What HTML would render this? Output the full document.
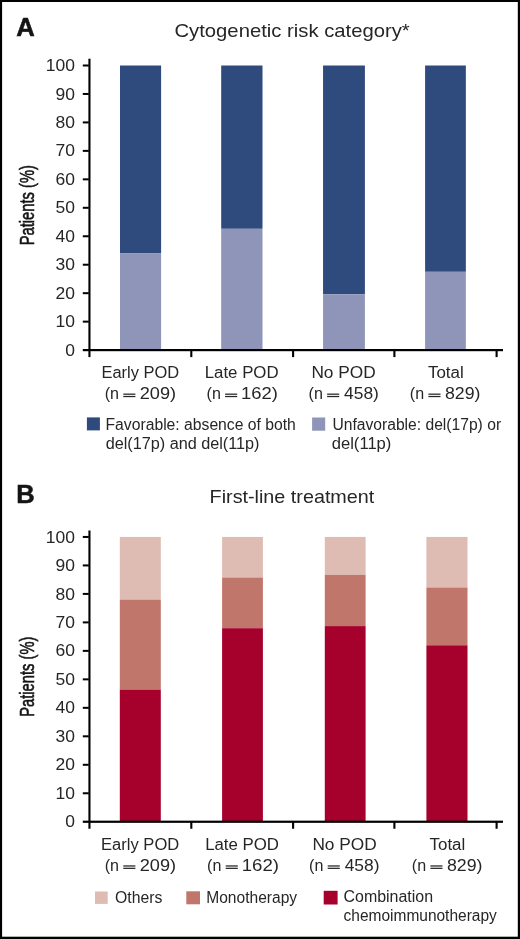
<!DOCTYPE html>
<html><head><meta charset="utf-8"><title>Figure</title>
<style>html,body{margin:0;padding:0;background:#fff;width:520px;height:939px;overflow:hidden}</style>
</head><body>
<svg width="520" height="939" viewBox="0 0 520 939" style="display:block;will-change:transform">
<rect x="0" y="0" width="520" height="939" fill="#000"/>
<rect x="2.1" y="2" width="515.7" height="934.7" fill="#fff"/>
<g font-family='"Liberation Sans", sans-serif' fill="#262626">
<text x="16.16" y="35.80" font-size="26" textLength="18.54" lengthAdjust="spacingAndGlyphs" font-weight="bold" fill="#141414" stroke="#141414" stroke-width="0.5" >A</text>
<text x="174.49" y="36.50" font-size="19" textLength="235.2" lengthAdjust="spacingAndGlyphs" >Cytogenetic risk category*</text>
<text transform="translate(33.8,244.2) rotate(-90)" x="-1.18" y="0" font-size="20.5" textLength="80.28" lengthAdjust="spacingAndGlyphs" fill="#141414" stroke="#141414" stroke-width="0.6">Patients (%)</text>
<text x="65.29" y="355.70" font-size="16.5" textLength="9.73" lengthAdjust="spacingAndGlyphs">0</text>
<text x="55.59" y="327.24" font-size="16.5" textLength="19.45" lengthAdjust="spacingAndGlyphs">10</text>
<text x="55.59" y="298.78" font-size="16.5" textLength="19.45" lengthAdjust="spacingAndGlyphs">20</text>
<text x="55.59" y="270.32" font-size="16.5" textLength="19.45" lengthAdjust="spacingAndGlyphs">30</text>
<text x="55.59" y="241.86" font-size="16.5" textLength="19.45" lengthAdjust="spacingAndGlyphs">40</text>
<text x="55.59" y="213.40" font-size="16.5" textLength="19.45" lengthAdjust="spacingAndGlyphs">50</text>
<text x="55.59" y="184.94" font-size="16.5" textLength="19.45" lengthAdjust="spacingAndGlyphs">60</text>
<text x="55.59" y="156.48" font-size="16.5" textLength="19.45" lengthAdjust="spacingAndGlyphs">70</text>
<text x="55.59" y="128.02" font-size="16.5" textLength="19.45" lengthAdjust="spacingAndGlyphs">80</text>
<text x="55.59" y="99.56" font-size="16.5" textLength="19.45" lengthAdjust="spacingAndGlyphs">90</text>
<text x="45.88" y="71.10" font-size="16.5" textLength="29.18" lengthAdjust="spacingAndGlyphs">100</text>
<rect x="120.0" y="65.50" width="41.10" height="187.60" fill="#2f4a7c"/>
<rect x="120.0" y="253.10" width="41.10" height="97.00" fill="#8e95b8"/>
<rect x="221.2" y="65.50" width="41.30" height="163.30" fill="#2f4a7c"/>
<rect x="221.2" y="228.80" width="41.30" height="121.30" fill="#8e95b8"/>
<rect x="323.05" y="65.50" width="41.85" height="228.70" fill="#2f4a7c"/>
<rect x="323.05" y="294.20" width="41.85" height="55.90" fill="#8e95b8"/>
<rect x="425.1" y="65.50" width="40.75" height="206.30" fill="#2f4a7c"/>
<rect x="425.1" y="271.80" width="40.75" height="78.30" fill="#8e95b8"/>
<rect x="88.4" y="58.7" width="2.1" height="298.40" fill="#000"/>
<rect x="82.8" y="320.64" width="6" height="2" fill="#000"/>
<rect x="82.8" y="292.18" width="6" height="2" fill="#000"/>
<rect x="82.8" y="263.72" width="6" height="2" fill="#000"/>
<rect x="82.8" y="235.26" width="6" height="2" fill="#000"/>
<rect x="82.8" y="206.80" width="6" height="2" fill="#000"/>
<rect x="82.8" y="178.34" width="6" height="2" fill="#000"/>
<rect x="82.8" y="149.88" width="6" height="2" fill="#000"/>
<rect x="82.8" y="121.42" width="6" height="2" fill="#000"/>
<rect x="82.8" y="92.96" width="6" height="2" fill="#000"/>
<rect x="82.8" y="64.50" width="6" height="2" fill="#000"/>
<rect x="82.8" y="349.00" width="420.2" height="2.2" fill="#000"/>
<rect x="190.25" y="350.10" width="2.1" height="7" fill="#000"/>
<rect x="292.05" y="350.10" width="2.1" height="7" fill="#000"/>
<rect x="393.34999999999997" y="350.10" width="2.1" height="7" fill="#000"/>
<rect x="495.55" y="350.10" width="2.1" height="7" fill="#000"/>
<text x="101.48" y="377.80" font-size="16" textLength="77.71" lengthAdjust="spacingAndGlyphs" >Early POD</text>
<text x="104.74" y="398.90" font-size="16" textLength="14.3" lengthAdjust="spacingAndGlyphs" >(n</text>
<rect x="123.30" y="393.55" width="12.10" height="1.25"/>
<rect x="123.30" y="395.90" width="12.10" height="1.25"/>
<text x="139.79" y="398.90" font-size="16" textLength="36.32" lengthAdjust="spacingAndGlyphs" >209)</text>
<text x="204.76" y="377.80" font-size="16" textLength="73.82" lengthAdjust="spacingAndGlyphs" >Late POD</text>
<text x="206.54" y="398.90" font-size="16" textLength="14.3" lengthAdjust="spacingAndGlyphs" >(n</text>
<rect x="225.10" y="393.55" width="12.10" height="1.25"/>
<rect x="225.10" y="395.90" width="12.10" height="1.25"/>
<text x="241.12" y="398.90" font-size="16" textLength="36.81" lengthAdjust="spacingAndGlyphs" >162)</text>
<text x="311.42" y="377.80" font-size="16" textLength="64.21" lengthAdjust="spacingAndGlyphs" >No POD</text>
<text x="308.54" y="398.90" font-size="16" textLength="14.3" lengthAdjust="spacingAndGlyphs" >(n</text>
<rect x="327.10" y="393.55" width="12.10" height="1.25"/>
<rect x="327.10" y="395.90" width="12.10" height="1.25"/>
<text x="344.07" y="398.90" font-size="16" textLength="34.81" lengthAdjust="spacingAndGlyphs" >458)</text>
<text x="427.96" y="377.80" font-size="16" textLength="35.78" lengthAdjust="spacingAndGlyphs" >Total</text>
<text x="409.84" y="398.90" font-size="16" textLength="14.3" lengthAdjust="spacingAndGlyphs" >(n</text>
<rect x="428.40" y="393.55" width="12.10" height="1.25"/>
<rect x="428.40" y="395.90" width="12.10" height="1.25"/>
<text x="445.0" y="398.90" font-size="16" textLength="35.49" lengthAdjust="spacingAndGlyphs" >829)</text>
<rect x="86.9" y="417.4" width="13.0" height="13.0" fill="#2f4a7c"/>
<text x="105.54" y="429.60" font-size="16" textLength="190.27" lengthAdjust="spacingAndGlyphs" >Favorable: absence of both</text>
<text x="105.65" y="448.80" font-size="16" textLength="153.87" lengthAdjust="spacingAndGlyphs" >del(17p) and del(11p)</text>
<rect x="312.1" y="417.5" width="13.1" height="13.2" fill="#8e95b8"/>
<text x="332.43" y="429.60" font-size="16" textLength="168.67" lengthAdjust="spacingAndGlyphs" >Unfavorable: del(17p) or</text>
<text x="331.74" y="448.80" font-size="16" textLength="59.64" lengthAdjust="spacingAndGlyphs" >del(11p)</text>
<text x="16.24" y="502.90" font-size="26" textLength="18.47" lengthAdjust="spacingAndGlyphs" font-weight="bold" fill="#141414" stroke="#141414" stroke-width="0.5" >B</text>
<text x="209.62" y="502.50" font-size="19" textLength="164.69" lengthAdjust="spacingAndGlyphs" >First-line treatment</text>
<text transform="translate(33.6,715.7) rotate(-90)" x="-1.18" y="0" font-size="20.5" textLength="80.28" lengthAdjust="spacingAndGlyphs" fill="#141414" stroke="#141414" stroke-width="0.6">Patients (%)</text>
<text x="65.29" y="827.35" font-size="16.5" textLength="9.73" lengthAdjust="spacingAndGlyphs">0</text>
<text x="55.59" y="798.87" font-size="16.5" textLength="19.45" lengthAdjust="spacingAndGlyphs">10</text>
<text x="55.59" y="770.39" font-size="16.5" textLength="19.45" lengthAdjust="spacingAndGlyphs">20</text>
<text x="55.59" y="741.91" font-size="16.5" textLength="19.45" lengthAdjust="spacingAndGlyphs">30</text>
<text x="55.59" y="713.43" font-size="16.5" textLength="19.45" lengthAdjust="spacingAndGlyphs">40</text>
<text x="55.59" y="684.95" font-size="16.5" textLength="19.45" lengthAdjust="spacingAndGlyphs">50</text>
<text x="55.59" y="656.47" font-size="16.5" textLength="19.45" lengthAdjust="spacingAndGlyphs">60</text>
<text x="55.59" y="627.99" font-size="16.5" textLength="19.45" lengthAdjust="spacingAndGlyphs">70</text>
<text x="55.59" y="599.51" font-size="16.5" textLength="19.45" lengthAdjust="spacingAndGlyphs">80</text>
<text x="55.59" y="571.03" font-size="16.5" textLength="19.45" lengthAdjust="spacingAndGlyphs">90</text>
<text x="45.88" y="542.55" font-size="16.5" textLength="29.18" lengthAdjust="spacingAndGlyphs">100</text>
<rect x="119.8" y="536.95" width="41.00" height="62.65" fill="#debcb3"/>
<rect x="119.8" y="599.60" width="41.00" height="90.00" fill="#c1766b"/>
<rect x="119.8" y="689.60" width="41.00" height="132.15" fill="#a6002c"/>
<rect x="222.1" y="536.95" width="40.80" height="40.55" fill="#debcb3"/>
<rect x="222.1" y="577.50" width="40.80" height="50.70" fill="#c1766b"/>
<rect x="222.1" y="628.20" width="40.80" height="193.55" fill="#a6002c"/>
<rect x="324.8" y="536.95" width="40.80" height="37.85" fill="#debcb3"/>
<rect x="324.8" y="574.80" width="40.80" height="51.30" fill="#c1766b"/>
<rect x="324.8" y="626.10" width="40.80" height="195.65" fill="#a6002c"/>
<rect x="426.4" y="536.95" width="41.10" height="50.55" fill="#debcb3"/>
<rect x="426.4" y="587.50" width="41.10" height="57.80" fill="#c1766b"/>
<rect x="426.4" y="645.30" width="41.10" height="176.45" fill="#a6002c"/>
<rect x="88.4" y="530.5" width="2.1" height="298.25" fill="#000"/>
<rect x="82.8" y="792.27" width="6" height="2" fill="#000"/>
<rect x="82.8" y="763.79" width="6" height="2" fill="#000"/>
<rect x="82.8" y="735.31" width="6" height="2" fill="#000"/>
<rect x="82.8" y="706.83" width="6" height="2" fill="#000"/>
<rect x="82.8" y="678.35" width="6" height="2" fill="#000"/>
<rect x="82.8" y="649.87" width="6" height="2" fill="#000"/>
<rect x="82.8" y="621.39" width="6" height="2" fill="#000"/>
<rect x="82.8" y="592.91" width="6" height="2" fill="#000"/>
<rect x="82.8" y="564.43" width="6" height="2" fill="#000"/>
<rect x="82.8" y="535.95" width="6" height="2" fill="#000"/>
<rect x="82.8" y="820.65" width="420.2" height="2.2" fill="#000"/>
<rect x="190.25" y="821.75" width="2.1" height="7" fill="#000"/>
<rect x="292.05" y="821.75" width="2.1" height="7" fill="#000"/>
<rect x="393.34999999999997" y="821.75" width="2.1" height="7" fill="#000"/>
<rect x="495.55" y="821.75" width="2.1" height="7" fill="#000"/>
<text x="101.08" y="849.60" font-size="16" textLength="78.12" lengthAdjust="spacingAndGlyphs" >Early POD</text>
<text x="104.74" y="870.70" font-size="16" textLength="14.3" lengthAdjust="spacingAndGlyphs" >(n</text>
<rect x="123.30" y="865.35" width="12.10" height="1.25"/>
<rect x="123.30" y="867.70" width="12.10" height="1.25"/>
<text x="139.79" y="870.70" font-size="16" textLength="36.32" lengthAdjust="spacingAndGlyphs" >209)</text>
<text x="205.16" y="849.60" font-size="16" textLength="73.82" lengthAdjust="spacingAndGlyphs" >Late POD</text>
<text x="207.14" y="870.70" font-size="16" textLength="14.3" lengthAdjust="spacingAndGlyphs" >(n</text>
<rect x="225.70" y="865.35" width="12.10" height="1.25"/>
<rect x="225.70" y="867.70" width="12.10" height="1.25"/>
<text x="241.7" y="870.70" font-size="16" textLength="37.24" lengthAdjust="spacingAndGlyphs" >162)</text>
<text x="312.42" y="849.60" font-size="16" textLength="64.21" lengthAdjust="spacingAndGlyphs" >No POD</text>
<text x="309.14" y="870.70" font-size="16" textLength="14.3" lengthAdjust="spacingAndGlyphs" >(n</text>
<rect x="327.70" y="865.35" width="12.10" height="1.25"/>
<rect x="327.70" y="867.70" width="12.10" height="1.25"/>
<text x="344.67" y="870.70" font-size="16" textLength="34.81" lengthAdjust="spacingAndGlyphs" >458)</text>
<text x="429.56" y="849.60" font-size="16" textLength="35.68" lengthAdjust="spacingAndGlyphs" >Total</text>
<text x="411.84" y="870.70" font-size="16" textLength="14.3" lengthAdjust="spacingAndGlyphs" >(n</text>
<rect x="430.40" y="865.35" width="12.10" height="1.25"/>
<rect x="430.40" y="867.70" width="12.10" height="1.25"/>
<text x="447.0" y="870.70" font-size="16" textLength="35.49" lengthAdjust="spacingAndGlyphs" >829)</text>
<rect x="95.0" y="891.5" width="12.7" height="12.4" fill="#debcb3"/>
<text x="115.09" y="902.60" font-size="16" textLength="47.38" lengthAdjust="spacingAndGlyphs" >Others</text>
<rect x="186.3" y="891.3" width="13.7" height="13.0" fill="#c1766b"/>
<text x="206.25" y="902.60" font-size="16" textLength="90.86" lengthAdjust="spacingAndGlyphs" >Monotherapy</text>
<rect x="323.7" y="890.8" width="13.9" height="13.7" fill="#a6002c"/>
<text x="343.5" y="902.20" font-size="16" textLength="89.53" lengthAdjust="spacingAndGlyphs" >Combination</text>
<text x="343.6" y="921.00" font-size="16" textLength="153.16" lengthAdjust="spacingAndGlyphs" >chemoimmunotherapy</text>
</g></svg>
</body></html>
